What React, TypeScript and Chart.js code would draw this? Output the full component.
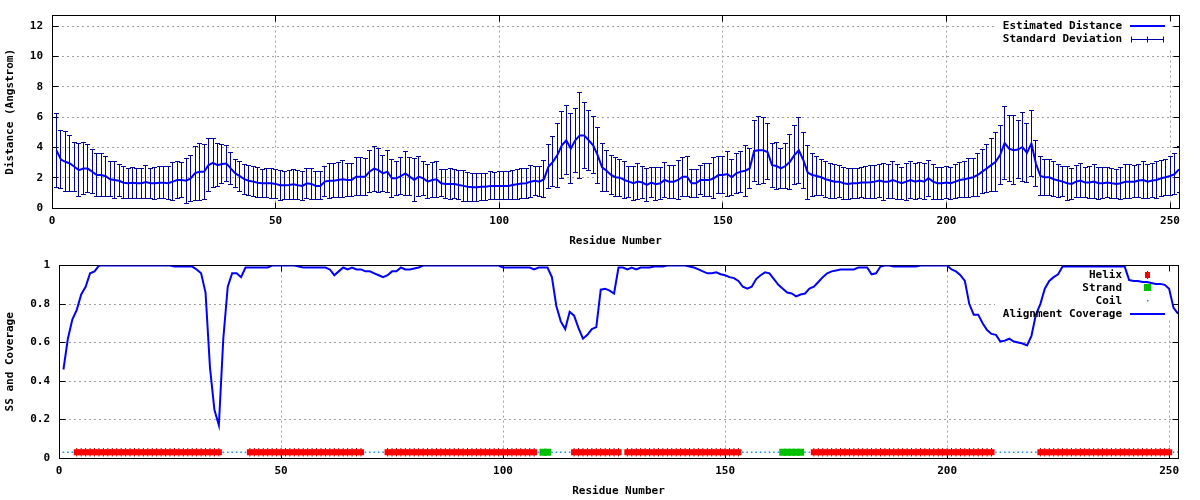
import React, { useEffect, useRef } from 'react';
import { Chart, registerables } from 'chart.js';

Chart.register(...registerables);

const FONT = '"DejaVu Sans Mono", "Liberation Mono", monospace';

// Estimated distance per residue (Angstrom), residues 1..252
const distance: number[] = [
  3.8, 3.2, 3.05, 2.94, 2.72, 2.5, 2.6, 2.6, 2.39, 2.18,
  2.18, 2.1, 1.9, 1.85, 1.8, 1.67, 1.63, 1.67, 1.63, 1.63,
  1.72, 1.63, 1.63, 1.67, 1.67, 1.63, 1.74, 1.85, 1.85, 1.8,
  1.95, 2.3, 2.39, 2.39, 2.83, 2.98, 2.83, 2.9, 2.94, 2.6,
  2.28, 2.1, 1.9, 1.8, 1.74, 1.67, 1.63, 1.63, 1.63, 1.59,
  1.5, 1.5, 1.52, 1.57, 1.5, 1.46, 1.63, 1.59, 1.46, 1.46,
  1.74, 1.8, 1.8, 1.85, 1.9, 1.85, 1.85, 2.07, 2.07, 2.07,
  2.4, 2.6, 2.5, 2.28, 2.4, 1.96, 1.96, 2.1, 2.28, 2.07,
  1.85, 2.07, 1.96, 1.74, 1.85, 1.9, 1.63, 1.59, 1.59, 1.59,
  1.52, 1.46, 1.41, 1.37, 1.37, 1.41, 1.41, 1.46, 1.46, 1.46,
  1.46, 1.46, 1.52, 1.57, 1.61, 1.63, 1.74, 1.79, 1.74, 1.9,
  2.72, 3.05, 3.49, 4.14, 4.47, 3.92, 4.47, 4.79, 4.79, 4.47,
  4.14, 3.49, 2.68, 2.46, 2.18, 2.03, 2.0, 1.85, 1.74, 1.63,
  1.74, 1.68, 1.52, 1.68, 1.57, 1.63, 1.85, 1.74, 1.74, 1.85,
  2.07, 2.07, 1.63, 1.63, 1.85, 1.85, 1.85, 1.96, 2.18, 2.18,
  2.24, 2.03, 2.29, 2.4, 2.46, 2.61, 3.77, 3.81, 3.81, 3.7,
  2.83, 2.77, 2.61, 2.77, 3.05, 3.49, 3.81, 3.16, 2.33, 2.18,
  2.11, 2.03, 1.9, 1.81, 1.74, 1.74, 1.63, 1.59, 1.63, 1.63,
  1.68, 1.68, 1.7, 1.74, 1.81, 1.74, 1.74, 1.85, 1.74, 1.63,
  1.74, 1.85, 1.74, 1.81, 1.74, 1.96, 1.74, 1.63, 1.63, 1.68,
  1.63, 1.74, 1.85, 1.9, 1.96, 2.03, 2.18, 2.4, 2.61, 2.83,
  3.05, 3.49, 4.29, 3.92, 3.81, 3.86, 4.03, 3.64, 4.25, 2.94,
  2.11, 2.03, 2.03, 1.9, 1.81, 1.74, 1.63, 1.59, 1.74, 1.81,
  1.68, 1.68, 1.74, 1.63, 1.63, 1.68, 1.63, 1.59, 1.63, 1.74,
  1.74, 1.74, 1.81, 1.85, 1.74, 1.81, 1.85, 1.96, 2.03, 2.11,
  2.24, 2.55,
];

// Standard deviation per residue
const distanceStd: number[] = [
  2.47, 1.9, 1.98, 1.85, 1.6, 1.75, 1.72, 1.58, 1.44, 1.44,
  1.44, 1.31, 1.15, 1.19, 1.06, 1.05, 0.98, 1.03, 0.98, 1.0,
  1.1, 1.0, 1.07, 1.05, 1.05, 1.1, 1.25, 1.2, 1.15, 1.47,
  1.5, 1.78, 1.88, 1.8, 1.75, 1.6, 1.4, 1.3, 1.2, 1.05,
  0.95, 1.0, 1.0, 1.0, 1.0, 0.98, 0.93, 0.95, 0.98, 0.98,
  0.98, 0.93, 0.98, 0.98, 0.97, 0.95, 0.98, 1.04, 0.92, 0.92,
  0.98, 1.14, 1.11, 1.14, 1.23, 1.11, 1.11, 1.27, 1.25, 1.23,
  1.37, 1.49, 1.45, 1.17, 1.38, 1.25, 1.13, 1.22, 1.48, 1.25,
  1.4, 1.3, 1.12, 1.12, 1.16, 1.2, 0.9, 0.93, 1.0, 0.96,
  0.98, 1.01, 0.95, 0.91, 0.91, 0.9, 0.9, 0.92, 0.91, 0.93,
  0.92, 0.92, 0.96, 0.98, 0.98, 1.01, 1.06, 0.98, 0.98, 1.22,
  1.46, 1.66, 2.12, 2.2, 2.29, 2.29, 2.12, 2.85, 2.18, 1.98,
  1.88, 1.85, 1.58, 1.34, 1.29, 1.29, 1.22, 1.25, 1.03, 1.11,
  1.17, 1.03, 1.06, 1.01, 1.09, 1.06, 1.17, 1.09, 1.09, 1.31,
  1.29, 1.34, 0.93, 0.92, 0.98, 1.09, 1.09, 1.36, 1.23, 1.2,
  1.47, 1.2, 1.34, 1.36, 1.68, 1.33, 1.99, 2.23, 2.18, 1.85,
  1.45, 1.53, 1.34, 1.5, 1.83, 1.93, 2.16, 1.85, 1.78, 1.45,
  1.29, 1.2, 1.2, 1.15, 1.12, 1.07, 1.05, 1.03, 1.01, 1.01,
  1.01, 1.07, 1.09, 1.09, 1.09, 1.23, 1.12, 1.25, 1.15, 1.07,
  1.23, 1.22, 1.2, 1.17, 1.2, 1.2, 1.15, 1.07, 1.07, 1.06,
  1.05, 1.12, 1.17, 1.2, 1.29, 1.25, 1.42, 1.47, 1.6, 1.76,
  1.94, 1.94, 2.4, 2.2, 2.27, 1.92, 2.25, 1.96, 2.18, 1.5,
  1.27, 1.2, 1.18, 1.15, 1.09, 1.01, 1.11, 1.0, 1.07, 1.12,
  1.01, 1.07, 1.12, 1.07, 1.03, 1.01, 1.01, 0.96, 1.07, 1.12,
  1.12, 1.07, 1.09, 1.2, 1.12, 1.12, 1.2, 1.17, 1.18, 1.26,
  1.36, 1.5,
];

// Alignment coverage per residue
const coverage: number[] = [
  0.46, 0.62, 0.72, 0.77, 0.85, 0.89, 0.96, 0.97, 1.0, 1.0,
  1.0, 1.0, 1.0, 1.0, 1.0, 1.0, 1.0, 1.0, 1.0, 1.0,
  1.0, 1.0, 1.0, 1.0, 1.0, 0.995, 0.995, 0.995, 0.995, 0.995,
  0.98, 0.96, 0.86, 0.47, 0.25, 0.17, 0.62, 0.89, 0.96, 0.96,
  0.94, 0.99, 0.99, 0.99, 0.99, 0.99, 0.99, 1.0, 1.0, 1.0,
  1.0, 1.0, 1.0, 0.995, 0.99, 0.99, 0.99, 0.99, 0.99, 0.99,
  0.98, 0.95, 0.97, 0.99, 0.98, 0.99, 0.98, 0.98, 0.97, 0.97,
  0.96, 0.95, 0.94, 0.95, 0.97, 0.97, 0.99, 0.98, 0.98, 0.985,
  0.99, 1.0, 1.0, 1.0, 1.0, 1.0, 1.0, 1.0, 1.0, 1.0,
  1.0, 1.0, 1.0, 1.0, 1.0, 1.0, 1.0, 1.0, 1.0, 0.99,
  0.99, 0.99, 0.99, 0.99, 0.99, 0.99, 0.98, 0.99, 0.99, 0.99,
  0.94, 0.79, 0.71, 0.67, 0.76, 0.74, 0.675, 0.62, 0.64, 0.67,
  0.68, 0.875, 0.88, 0.87, 0.855, 0.99, 0.99, 0.98, 0.99, 0.98,
  0.99, 0.99, 0.99, 0.995, 0.995, 0.995, 1.0, 1.0, 1.0, 1.0,
  1.0, 0.995, 0.99, 0.98, 0.97, 0.96, 0.96, 0.965, 0.955, 0.95,
  0.94, 0.935, 0.92, 0.89, 0.88, 0.89, 0.93, 0.95, 0.965, 0.96,
  0.93, 0.9, 0.88, 0.86, 0.855, 0.84, 0.85, 0.855, 0.88, 0.89,
  0.915, 0.94, 0.96, 0.97, 0.975, 0.98, 0.98, 0.98, 0.98, 0.99,
  0.99, 0.99, 0.955, 0.96, 0.995, 1.0, 1.0, 0.995, 0.995, 0.995,
  0.995, 0.995, 0.995, 1.0, 1.0, 1.0, 1.0, 1.0, 1.0, 1.0,
  0.98, 0.97, 0.95, 0.92, 0.8, 0.745, 0.745, 0.7, 0.665, 0.645,
  0.64, 0.605, 0.61, 0.62, 0.605, 0.6, 0.595, 0.585, 0.635, 0.745,
  0.8, 0.88, 0.92, 0.94, 0.955, 0.995, 0.995, 0.995, 0.995, 0.995,
  0.995, 0.995, 0.995, 0.995, 0.995, 0.995, 0.995, 0.995, 0.995, 0.995,
  0.925, 0.92, 0.92, 0.915, 0.915, 0.91, 0.905, 0.905, 0.9, 0.88,
  0.78, 0.75,
];

// Secondary structure, run-length encoded (H helix, E strand, C coil, - none)
const ssRuns: [string, number][] = [
  ['C', 3], ['H', 33], ['C', 6], ['H', 26], ['C', 5], ['H', 34], ['C', 1],
  ['E', 2], ['C', 5], ['H', 11], ['-', 1], ['H', 26], ['C', 9], ['E', 5],
  ['C', 2], ['H', 41], ['C', 10], ['H', 30], ['C', 2],
];
const ssLevel = 0.03;

const xTicks = [0, 50, 100, 150, 200, 250];
const topYTicks = [0, 2, 4, 6, 8, 10, 12];
const bottomYTicks = [0, 0.2, 0.4, 0.6, 0.8, 1];
const bottomYLabels = ['0', '0.2', '0.4', '0.6', '0.8', '1'];

const residues = distance.map((_, i) => i + 1);
const ssPerResidue: string[] = [];
ssRuns.forEach(([s, n]) => { for (let k = 0; k < n; k++) ssPerResidue.push(s); });

const BLUE = '#0000ff';
const NAVY = '#0000a0';
const RED = '#ff0000';
const DARKRED = '#a00000';
const GREEN = '#00c000';
const COILBLUE = '#1a8cff';
const GRID = '#a0a0a0';

const fontSpec = { family: FONT, size: 11, weight: 'bold' as const };

function makeGnuplotPlugin(cfg: {
  legendBox: number[];
  errorBars?: boolean;
  legend: (ctx: CanvasRenderingContext2D) => void;
}) {
  return {
    id: 'gnuplotLook',
    beforeDatasetsDraw(chart: any) {
      const { ctx, chartArea: ca } = chart;
      const [x0, y0, x1, y1] = cfg.legendBox;
      ctx.save();
      ctx.fillStyle = '#ffffff';
      ctx.fillRect(x0, y0, x1 - x0, y1 - y0);
      // frame
      ctx.strokeStyle = '#000';
      ctx.lineWidth = 1;
      const L = Math.floor(ca.left) + 0.5;
      const R = Math.floor(ca.right) + 0.5;
      const T = Math.floor(ca.top) + 0.5;
      const B = Math.floor(ca.bottom) + 0.5;
      ctx.strokeRect(L, T, R - L, B - T);
      // inward ticks on all sides
      ctx.beginPath();
      const xs = chart.scales.x;
      const ys = chart.scales.y;
      xs.ticks.forEach((t: any) => {
        const px = Math.floor(xs.getPixelForValue(t.value)) + 0.5;
        ctx.moveTo(px, B); ctx.lineTo(px, B - 6);
        ctx.moveTo(px, T); ctx.lineTo(px, T + 6);
      });
      ys.ticks.forEach((t: any) => {
        const py = Math.floor(ys.getPixelForValue(t.value)) + 0.5;
        ctx.moveTo(L, py); ctx.lineTo(L + 6, py);
        ctx.moveTo(R, py); ctx.lineTo(R - 6, py);
      });
      ctx.stroke();
      if (cfg.errorBars) {
        ctx.beginPath();
        ctx.rect(ca.left, ca.top - 1, ca.right - ca.left + 1, ca.bottom - ca.top + 2);
        ctx.clip();
        ctx.strokeStyle = NAVY;
        ctx.lineWidth = 1;
        ctx.beginPath();
        residues.forEach((r, i) => {
          const px = Math.floor(xs.getPixelForValue(r)) + 0.5;
          const yt = Math.floor(ys.getPixelForValue(distance[i] + distanceStd[i])) + 0.5;
          const yb = Math.floor(ys.getPixelForValue(distance[i] - distanceStd[i])) + 0.5;
          ctx.moveTo(px, yt); ctx.lineTo(px, yb);
          ctx.moveTo(px - 2.5, yt); ctx.lineTo(px + 2.5, yt);
          ctx.moveTo(px - 2.5, yb); ctx.lineTo(px + 2.5, yb);
        });
        ctx.stroke();
      }
      ctx.restore();
    },
    afterDraw(chart: any) {
      const ctx = chart.ctx as CanvasRenderingContext2D;
      ctx.save();
      ctx.font = `bold 11px ${FONT}`;
      ctx.fillStyle = '#000';
      ctx.textAlign = 'right';
      ctx.textBaseline = 'middle';
      cfg.legend(ctx);
      ctx.restore();
    },
  };
}

function axisCommon(title: string, isX: boolean) {
  return {
    grid: { color: GRID, lineWidth: 1, drawTicks: false },
    border: { display: false, dash: [2, 3] },
    ticks: isX
      ? { padding: 7, color: '#000', font: fontSpec, maxRotation: 0, minRotation: 0, autoSkip: false }
      : { padding: 9, color: '#000', font: fontSpec, autoSkip: false },
    title: {
      display: true,
      text: title,
      color: '#000',
      font: fontSpec,
      padding: isX ? { top: 0, bottom: 2 } : { top: 4, bottom: 0 },
    },
  };
}

function topConfig(): any {
  return {
    type: 'line',
    data: {
      datasets: [
        {
          label: 'Estimated Distance',
          data: residues.map((r, i) => ({ x: r, y: distance[i] })),
          borderColor: BLUE,
          borderWidth: 2,
          pointRadius: 0,
          tension: 0,
          fill: false,
        },
      ],
    },
    options: {
      responsive: false,
      animation: false,
      devicePixelRatio: 1,
      layout: { padding: { top: 14, right: 21, left: 0, bottom: 0 } },
      plugins: { legend: { display: false }, tooltip: { enabled: false } },
      scales: {
        x: {
          type: 'linear',
          min: 0,
          max: 252,
          ...axisCommon('Residue Number', true),
          afterBuildTicks: (s: any) => { s.ticks = xTicks.map((v) => ({ value: v })); },
          afterFit: (s: any) => { s.height = 42; },
        },
        y: {
          type: 'linear',
          min: 0,
          max: 12.7,
          ...axisCommon('Distance (Angstrom)', false),
          afterBuildTicks: (s: any) => { s.ticks = topYTicks.map((v) => ({ value: v })); },
          afterFit: (s: any) => { s.width = 52; },
        },
      },
    },
    plugins: [
      makeGnuplotPlugin({
        legendBox: [995, 15, 1172, 50],
        errorBars: true,
        legend: (ctx) => {
          ctx.fillText('Estimated Distance', 1122, 26);
          ctx.fillText('Standard Deviation', 1122, 39);
          ctx.strokeStyle = BLUE;
          ctx.lineWidth = 2;
          ctx.beginPath();
          ctx.moveTo(1130, 26); ctx.lineTo(1165, 26);
          ctx.stroke();
          ctx.strokeStyle = NAVY;
          ctx.lineWidth = 1;
          ctx.beginPath();
          ctx.moveTo(1131, 39.5); ctx.lineTo(1164, 39.5);
          ctx.moveTo(1131.5, 36.5); ctx.lineTo(1131.5, 42.5);
          ctx.moveTo(1163.5, 36.5); ctx.lineTo(1163.5, 42.5);
          ctx.moveTo(1147.5, 36.5); ctx.lineTo(1147.5, 42.5);
          ctx.stroke();
        },
      }),
    ],
  };
}

function bottomConfig(): any {
  const pick = (code: string) =>
    residues.filter((_, i) => ssPerResidue[i] === code).map((r) => ({ x: r, y: ssLevel }));
  const helix = pick('H');
  const strand = pick('E');
  const coil = pick('C');
  return {
    type: 'line',
    data: {
      datasets: [
        {
          label: 'Alignment Coverage',
          data: residues.map((r, i) => ({ x: r, y: coverage[i] })),
          borderColor: BLUE,
          borderWidth: 2,
          pointRadius: 0,
          tension: 0,
          fill: false,
          order: 0,
        },
        {
          label: 'Helix',
          data: helix,
          showLine: false,
          pointStyle: 'rect',
          pointRadius: 4.3,
          pointBackgroundColor: RED,
          pointBorderWidth: 0,
          borderColor: RED,
          order: 1,
        },
        {
          label: 'HelixEdge',
          data: helix,
          showLine: false,
          pointStyle: 'line',
          pointRotation: 90,
          pointRadius: 4.2,
          pointBorderColor: DARKRED,
          pointBorderWidth: 1,
          borderColor: DARKRED,
          order: 2,
        },
        {
          label: 'Strand',
          data: strand,
          showLine: false,
          pointStyle: 'rect',
          pointRadius: 5,
          pointBackgroundColor: GREEN,
          pointBorderWidth: 0,
          borderColor: GREEN,
          order: 1,
        },
        {
          label: 'Coil',
          data: coil,
          showLine: false,
          pointStyle: 'rect',
          pointRadius: 1.1,
          pointBackgroundColor: COILBLUE,
          pointBorderWidth: 0,
          borderColor: COILBLUE,
          order: 1,
        },
      ],
    },
    options: {
      responsive: false,
      animation: false,
      devicePixelRatio: 1,
      layout: { padding: { top: 13, right: 22, left: 0, bottom: 0 } },
      plugins: { legend: { display: false }, tooltip: { enabled: false } },
      scales: {
        x: {
          type: 'linear',
          min: 0,
          max: 252,
          ...axisCommon('Residue Number', true),
          afterBuildTicks: (s: any) => { s.ticks = xTicks.map((v) => ({ value: v })); },
          afterFit: (s: any) => { s.height = 42; },
        },
        y: {
          type: 'linear',
          min: 0,
          max: 1,
          ...axisCommon('SS and Coverage', false),
          ticks: {
            padding: 9,
            color: '#000',
            font: fontSpec,
            autoSkip: false,
            callback: (v: number) => {
              const idx = bottomYTicks.findIndex((t) => Math.abs(t - v) < 1e-9);
              return idx >= 0 ? bottomYLabels[idx] : '';
            },
          },
          afterBuildTicks: (s: any) => { s.ticks = bottomYTicks.map((v) => ({ value: v })); },
          afterFit: (s: any) => { s.width = 59; },
        },
      },
    },
    plugins: [
      makeGnuplotPlugin({
        legendBox: [995, 14, 1171, 68],
        legend: (ctx) => {
          ctx.fillText('Helix', 1122, 25);
          ctx.fillText('Strand', 1122, 38);
          ctx.fillText('Coil', 1122, 51);
          ctx.fillText('Alignment Coverage', 1122, 64);
          // helix sample
          ctx.strokeStyle = DARKRED;
          ctx.lineWidth = 1;
          ctx.beginPath();
          ctx.moveTo(1147.5, 21); ctx.lineTo(1147.5, 29);
          ctx.stroke();
          ctx.fillStyle = RED;
          ctx.fillRect(1145, 22, 5, 6);
          // strand sample
          ctx.fillStyle = GREEN;
          ctx.fillRect(1144, 34, 7, 7);
          // coil sample
          ctx.fillStyle = COILBLUE;
          ctx.fillRect(1147, 50, 1.5, 1.5);
          // coverage sample
          ctx.strokeStyle = BLUE;
          ctx.lineWidth = 2;
          ctx.beginPath();
          ctx.moveTo(1130, 64); ctx.lineTo(1165, 64);
          ctx.stroke();
        },
      }),
    ],
  };
}

export default function App() {
  const topRef = useRef<HTMLCanvasElement>(null);
  const botRef = useRef<HTMLCanvasElement>(null);

  useEffect(() => {
    Chart.defaults.font.family = FONT;
    Chart.defaults.font.size = 11;
    Chart.defaults.color = '#000';
    const c1 = new Chart(topRef.current as HTMLCanvasElement, topConfig());
    const c2 = new Chart(botRef.current as HTMLCanvasElement, bottomConfig());
    return () => {
      c1.destroy();
      c2.destroy();
    };
  }, []);

  return (
    <div style={{ position: 'absolute', left: 0, top: 0, width: 1200, height: 500, background: '#ffffff' }}>
      <canvas
        ref={topRef}
        width={1200}
        height={250}
        style={{ position: 'absolute', left: 0, top: 0, width: 1200, height: 250 }}
      />
      <canvas
        ref={botRef}
        width={1200}
        height={250}
        style={{ position: 'absolute', left: 0, top: 250, width: 1200, height: 250 }}
      />
    </div>
  );
}
